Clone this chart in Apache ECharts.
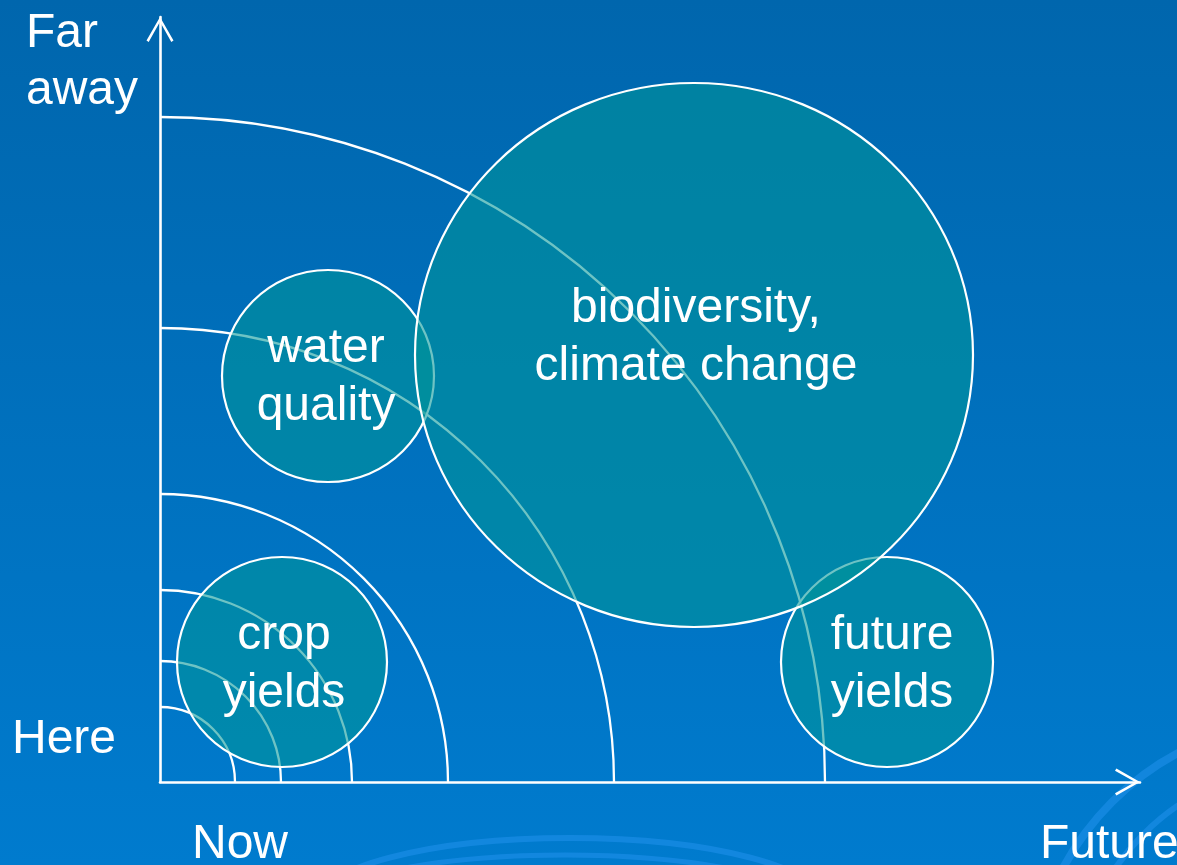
<!DOCTYPE html>
<html><head><meta charset="utf-8">
<script src="https://cdn.jsdelivr.net/npm/echarts@6/dist/echarts.min.js"></script>
<style>html,body{margin:0;padding:0;background:#006db8;}#c{width:1177px;height:865px;}</style>
</head><body><div id="c"></div>
<script>
// ---- data (axis units) ----
const arcRadii = [75, 121, 192, 288, 454, 665];
const bubbleNames = ['crop\nyields', 'water\nquality', 'future\nyields', 'biodiversity,\nclimate change'];
const bubbleX = [122, 168, 727, 534];
const bubbleY = [120, 406, 120, 427];
const bubbleRx = [105, 106, 106, 279];
const bubbleRy = [105, 106, 105, 272];
const xStartLabel = 'Now';
const xEndLabel = 'Future';
const yStartLabel = 'Here';
const yEndLabel = 'Far\naway';
const xMax = 980;
const yMax = 765;

// ---- styling ----
const FONT = '"Liberation Sans", Arial, sans-serif';
const labelDx = [2, -2, 5, 2];
const labelDy = [3, 2, 3, -17];
const arrowPath = 'path://M13.5,0 L27,23.6 L24.8,25 L13.5,4.8 L2.2,25 L0,23.6 Z';
const swirl = 'rgba(40,150,245,0.45)';

const chart = echarts.init(document.getElementById('c'), null, {renderer: 'canvas'});

const axisCommon = {
  type: 'value', min: 0,
  axisLine: {show: true, onZero: false, lineStyle: {color: '#fff', width: 2.6},
    symbol: ['none', arrowPath], symbolSize: [27, 25], symbolOffset: [0, -12.5]},
  axisTick: {show: false}, axisLabel: {show: false}, splitLine: {show: false}
};

const option = {
  animation: false,
  backgroundColor: {type: 'linear', x: 0, y: 0, x2: 0, y2: 1,
    colorStops: [{offset: 0, color: '#0066ad'}, {offset: 1, color: '#007bce'}]},
  grid: {left: 160, top: 17, width: xMax, height: yMax},
  xAxis: Object.assign({}, axisCommon, {max: xMax}),
  yAxis: Object.assign({}, axisCommon, {max: yMax}),
  graphic: [
    {type: 'ellipse', silent: true, z: -1, shape: {cx: 570, cy: 905, rx: 255, ry: 67}, style: {fill: null, stroke: swirl, lineWidth: 6}},
    {type: 'ellipse', silent: true, z: -1, shape: {cx: 565, cy: 925, rx: 275, ry: 70}, style: {fill: null, stroke: swirl, lineWidth: 5}},
    {type: 'circle', silent: true, z: -1, shape: {cx: 1310, cy: 1000, r: 280}, style: {fill: null, stroke: swirl, lineWidth: 8}},
    {type: 'circle', silent: true, z: -1, shape: {cx: 1310, cy: 1000, r: 235}, style: {fill: null, stroke: swirl, lineWidth: 6}},
    {type: 'text', left: 26, top: 5, style: {text: yEndLabel, fill: '#fff', font: '48px ' + FONT, lineHeight: 57}},
    {type: 'text', left: 12, top: 716, style: {text: yStartLabel, fill: '#fff', font: '48px ' + FONT}},
    {type: 'text', left: 192, top: 821, style: {text: xStartLabel, fill: '#fff', font: '48px ' + FONT}},
    {type: 'text', left: 1040, top: 821, style: {text: xEndLabel, fill: '#fff', font: '48px ' + FONT}}
  ],
  series: [
    {
      type: 'custom', clip: false, silent: true, z: 2,
      data: arcRadii.map(r => [r]),
      renderItem: function (params, api) {
        const c = api.coord([0, 0]);
        const s = api.size([api.value(0), api.value(0)]);
        return {type: 'arc', shape: {cx: c[0], cy: c[1], r: (s[0] + s[1]) / 2, startAngle: -Math.PI / 2, endAngle: 0, clockwise: true},
          style: {stroke: '#fff', lineWidth: 2.3, fill: null}};
      }
    },
    {
      type: 'custom', clip: false, silent: true, z: 3,
      data: bubbleX.map((x, i) => [x, bubbleY[i], bubbleRx[i], bubbleRy[i]]),
      renderItem: function (params, api) {
        const i = params.dataIndex;
        const c = api.coord([api.value(0), api.value(1)]);
        const s = api.size([api.value(2), api.value(3)]);
        return {type: 'group', children: [
          {type: 'ellipse', shape: {cx: c[0], cy: c[1], rx: s[0], ry: s[1]},
            style: {fill: 'rgba(0,149,151,0.57)', stroke: '#fff', lineWidth: 2.2}},
          {type: 'text', x: c[0] + labelDx[i], y: c[1] + labelDy[i],
            style: {text: bubbleNames[i], fill: '#fff', font: '48px ' + FONT, align: 'center', verticalAlign: 'middle', lineHeight: 58}}
        ]};
      }
    }
  ]
};
chart.setOption(option);
</script>
</body></html>
